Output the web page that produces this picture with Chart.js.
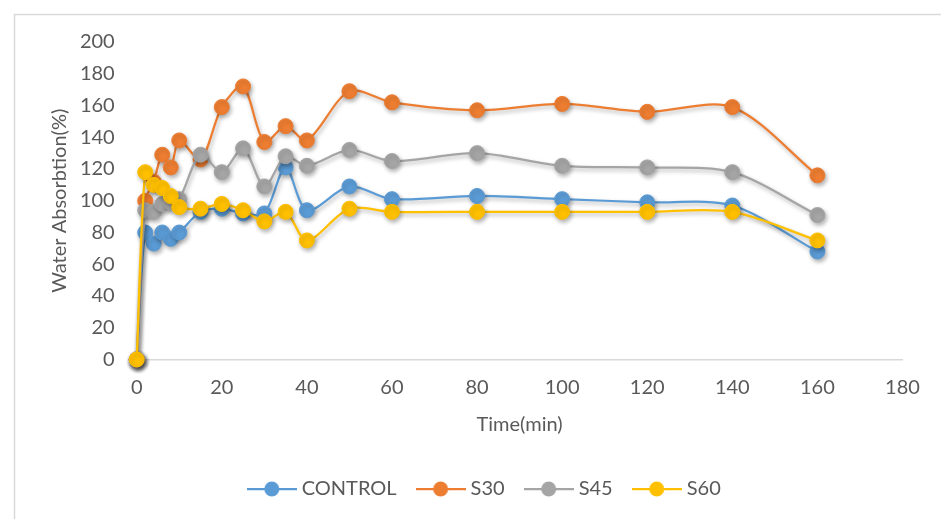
<!DOCTYPE html>
<html>
<head>
<meta charset="utf-8">
<script src="https://cdn.jsdelivr.net/npm/chart.js@4.4.0/dist/chart.umd.min.js"></script>
<style>
    html, body { margin: 0; padding: 0; background: #fff; }
    canvas { display: block; }
</style>
</head>
<body>
<canvas id="waterChart" width="941" height="519"></canvas>
<script>
// time points (min)
const timeMin = [0, 2, 4, 6, 8, 10, 15, 20, 25, 30, 35, 40, 50, 60, 80, 100, 120, 140, 160];

// water absorption (%) per sample
const control = [0, 80, 73, 80, 76, 80, 93, 95, 92, 92, 121, 94, 109, 101, 103, 101, 99, 97, 68];
const s30 = [0, 100, 112, 129, 121, 138, 126, 159, 172, 137, 147, 138, 169, 162, 157, 161, 156, 159, 116];
const s45 = [0, 94, 93, 98, 99, 101, 129, 118, 133, 109, 128, 122, 132, 125, 130, 122, 121, 118, 91];
const s60 = [0, 118, 110, 108, 103, 96, 95, 98, 94, 87, 93, 75, 95, 93, 93, 93, 93, 93, 75];

const seriesNames = ["CONTROL", "S30", "S45", "S60"];
const seriesValues = [control, s30, s45, s60];
const seriesColors = ["#5B9BD5", "#ED7D31", "#A5A5A5", "#FFC000"];

const xTickValues = [0, 20, 40, 60, 80, 100, 120, 140, 160, 180];
const yTickValues = [0, 20, 40, 60, 80, 100, 120, 140, 160, 180, 200];

const textColor = "#595959";
const fontFamily = "Lato, 'Open Sans', sans-serif";

// legend icon: short line with a marker in the middle
function makeLegendIcon(color) {
    const c = document.createElement("canvas");
    c.width = 50;
    c.height = 18;
    const g = c.getContext("2d");
    g.strokeStyle = color;
    g.lineWidth = 2.25;
    g.beginPath();
    g.moveTo(0, 9);
    g.lineTo(50, 9);
    g.stroke();
    g.fillStyle = color;
    g.beginPath();
    g.arc(25, 9, 7.5, 0, Math.PI * 2);
    g.fill();
    return c;
}
const legendIcons = seriesColors.map(makeLegendIcon);

const datasets = seriesNames.map((name, i) => ({
    label: name,
    data: timeMin.map((t, j) => ({ x: t, y: seriesValues[i][j] })),
    borderColor: seriesColors[i],
    backgroundColor: seriesColors[i],
    pointBackgroundColor: seriesColors[i],
    pointBorderColor: seriesColors[i],
    borderWidth: 2.25,
    pointRadius: 7.5,
    pointHoverRadius: 7.5,
    pointBorderWidth: 1,
    tension: 0.3,
    clip: false,
    order: seriesNames.length - 1 - i, // later series on top
}));

// outer frame of the chart, only top and left edges are visible
const framePlugin = {
    id: "frame",
    beforeDraw(chart) {
        const ctx = chart.ctx;
        ctx.save();
        ctx.fillStyle = "#fff";
        ctx.fillRect(0, 0, chart.width, chart.height);
        ctx.strokeStyle = "#d9d9d9";
        ctx.lineWidth = 1.5;
        ctx.beginPath();
        ctx.moveTo(14.5, chart.height);
        ctx.lineTo(14.5, 14.5);
        ctx.lineTo(chart.width, 14.5);
        ctx.stroke();
        ctx.restore();
    },
};

// soft drop shadow like the office chart markers
const shadowPlugin = {
    id: "shadow",
    beforeDatasetDraw(chart) {
        const ctx = chart.ctx;
        ctx.save();
        ctx.shadowColor = "rgba(0, 0, 0, 0.3)";
        ctx.shadowBlur = 4;
        ctx.shadowOffsetX = 1.5;
        ctx.shadowOffsetY = 2.5;
    },
    afterDatasetDraw(chart) {
        chart.ctx.restore();
    },
};

// move legend a bit to the right to sit where the original one is
const legendShiftPlugin = {
    id: "legendShift",
    afterLayout(chart) {
        if (chart.legend) {
            chart.legend.left += 11;
            chart.legend.right += 11;
        }
    },
};

const ctx = document.getElementById("waterChart").getContext("2d");
new Chart(ctx, {
    type: "line",
    data: { datasets: datasets },
    plugins: [framePlugin, shadowPlugin, legendShiftPlugin],
    options: {
        responsive: false,
        animation: false,
        devicePixelRatio: 1,
        layout: {
            padding: { left: 48, right: 38.5, top: 42, bottom: 10 },
        },
        plugins: {
            tooltip: { enabled: false },
            legend: {
                position: "bottom",
                labels: {
                    usePointStyle: true,
                    pointStyleWidth: 40,
                    padding: 24,
                    color: textColor,
                    font: { family: fontFamily, size: 20 },
                    generateLabels: (chart) =>
                        chart.data.datasets.map((ds, i) => ({
                            text: ds.label,
                            pointStyle: legendIcons[i],
                            fillStyle: ds.backgroundColor,
                            strokeStyle: ds.borderColor,
                            lineWidth: 0,
                            fontColor: textColor,
                            hidden: !chart.isDatasetVisible(i),
                            datasetIndex: i,
                        })),
                },
            },
        },
        scales: {
            x: {
                type: "linear",
                min: 0,
                max: 180,
                afterBuildTicks: (scale) => {
                    scale.ticks = xTickValues.map((v) => ({ value: v }));
                },
                afterFit: (scale) => {
                    scale.height = 95.5;
                },
                grid: { display: false, drawTicks: false },
                border: { display: true, color: "#d9d9d9", width: 1.5 },
                ticks: {
                    padding: 16,
                    color: textColor,
                    font: { family: fontFamily, size: 20 },
                    maxRotation: 0,
                },
                title: {
                    display: true,
                    text: "Time(min)",
                    color: textColor,
                    font: { family: fontFamily, size: 20 },
                    padding: { top: 0, bottom: 18 },
                },
            },
            y: {
                type: "linear",
                min: 0,
                max: 200,
                afterBuildTicks: (scale) => {
                    scale.ticks = yTickValues.map((v) => ({ value: v }));
                },
                afterFit: (scale) => {
                    scale.width = 88.7;
                },
                grid: { display: false, drawTicks: false },
                border: { display: false },
                ticks: {
                    padding: 22,
                    color: textColor,
                    font: { family: fontFamily, size: 20 },
                },
                title: {
                    display: true,
                    text: "Water Absorbtion(%)",
                    color: textColor,
                    font: { family: fontFamily, size: 20 },
                    padding: { top: 0, bottom: 0 },
                },
            },
        },
    },
});
</script>
</body>
</html>
